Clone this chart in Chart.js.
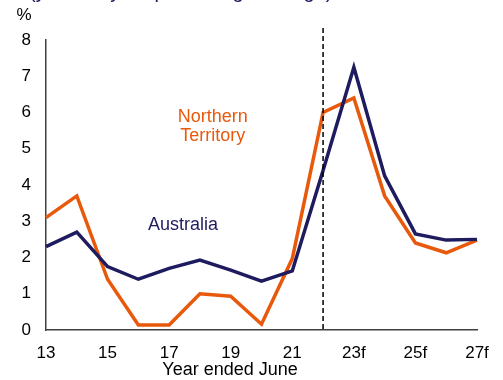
<!DOCTYPE html>
<html>
<head>
<meta charset="utf-8">
<script src="https://cdn.jsdelivr.net/npm/chart.js@4/dist/chart.umd.min.js"></script>
<style>
  html, body { margin: 0; padding: 0; background: #ffffff; }
  #wrap { width: 503px; height: 380px; position: relative; }
</style>
</head>
<body>
<div id="wrap"><canvas id="c" width="503" height="380"></canvas></div>
<script>
// Year ended June (f = forecast)
const years = ['13','14','15','16','17','18','19','20','21','22','23f','24f','25f','26f','27f'];
const shownYears = ['13','15','17','19','21','23f','25f','27f'];

// Year-on-year percentage change
const australia = [2.3, 2.7, 1.75, 1.4, 1.7, 1.93, 1.65, 1.35, 1.63, 4.4, 7.25, 4.25, 2.65, 2.48, 2.5];
const northernTerritory = [3.1, 3.7, 1.4, 0.14, 0.14, 1.0, 0.93, 0.16, 1.97, 6.0, 6.4, 3.7, 2.4, 2.13, 2.48];

const yTicks = [0, 1, 2, 3, 4, 5, 6, 7, 8];
const forecastStart = '22';

const NAVY = '#1e1b5e';
const ORANGE = '#e8590c';
const FONT = 'Arial, "Liberation Sans", sans-serif';

const overlay = {
  id: 'overlay',
  afterDatasetsDraw(chart) {
    const { ctx, scales: { x, y } } = chart;
    ctx.save();
    // forecast divider
    const xd = x.getPixelForValue(years.indexOf(forecastStart));
    ctx.strokeStyle = '#000000';
    ctx.lineWidth = 1.5;
    ctx.setLineDash([5, 3]);
    ctx.beginPath();
    ctx.moveTo(xd, 28);
    ctx.lineTo(xd, y.getPixelForValue(0));
    ctx.stroke();
    ctx.setLineDash([]);

    // series labels
    ctx.font = '18px ' + FONT;
    ctx.textAlign = 'center';
    ctx.textBaseline = 'middle';
    ctx.fillStyle = ORANGE;
    ctx.fillText('Northern', x.getPixelForValue(5.42), y.getPixelForValue(5.88));
    ctx.fillText('Territory', x.getPixelForValue(5.42), y.getPixelForValue(5.35));
    ctx.fillStyle = NAVY;
    ctx.fillText('Australia', x.getPixelForValue(4.45), y.getPixelForValue(2.9));

    // axis title
    ctx.fillStyle = '#000000';
    ctx.fillText('Year ended June', 230, 370);

    // unit and subtitle
    ctx.font = '17px ' + FONT;
    ctx.fillText('%', 24, 15);
    ctx.fillStyle = NAVY;
    ctx.font = '20px ' + FONT;
    ctx.textAlign = 'left';
    ctx.textBaseline = 'alphabetic';
    ctx.fillText('(year-on-year percentage change)', 29, -2);
    ctx.restore();
  }
};

new Chart(document.getElementById('c'), {
  type: 'line',
  data: {
    labels: years,
    datasets: [
      { label: 'Australia', data: australia, borderColor: NAVY, borderWidth: 3.5, pointRadius: 0, tension: 0, fill: false },
      { label: 'Northern Territory', data: northernTerritory, borderColor: ORANGE, borderWidth: 3.5, pointRadius: 0, tension: 0, fill: false }
    ]
  },
  options: {
    responsive: false,
    animation: false,
    events: [],
    layout: { padding: { top: 40, right: 26, bottom: 0, left: 0 } },
    plugins: { legend: { display: false }, tooltip: { enabled: false }, title: { display: false } },
    scales: {
      x: {
        type: 'category',
        offset: false,
        grid: { display: false, drawTicks: false },
        border: { display: true, color: '#404040', width: 1.5 },
        ticks: {
          autoSkip: false,
          maxRotation: 0,
          padding: 13,
          color: '#000000',
          font: { family: FONT, size: 17 },
          callback(v) { const l = years[v]; return shownYears.includes(l) ? l : ''; }
        },
        afterFit(s) { s.height = 50; }
      },
      y: {
        min: 0,
        max: 8,
        afterBuildTicks(s) { s.ticks = yTicks.map(v => ({ value: v })); },
        grid: { display: false, drawTicks: false },
        border: { display: true, color: '#404040', width: 1.5 },
        ticks: { padding: 15, color: '#000000', font: { family: FONT, size: 17 } },
        afterFit(s) { s.width = 46; }
      }
    }
  },
  plugins: [overlay]
});
</script>
</body>
</html>
